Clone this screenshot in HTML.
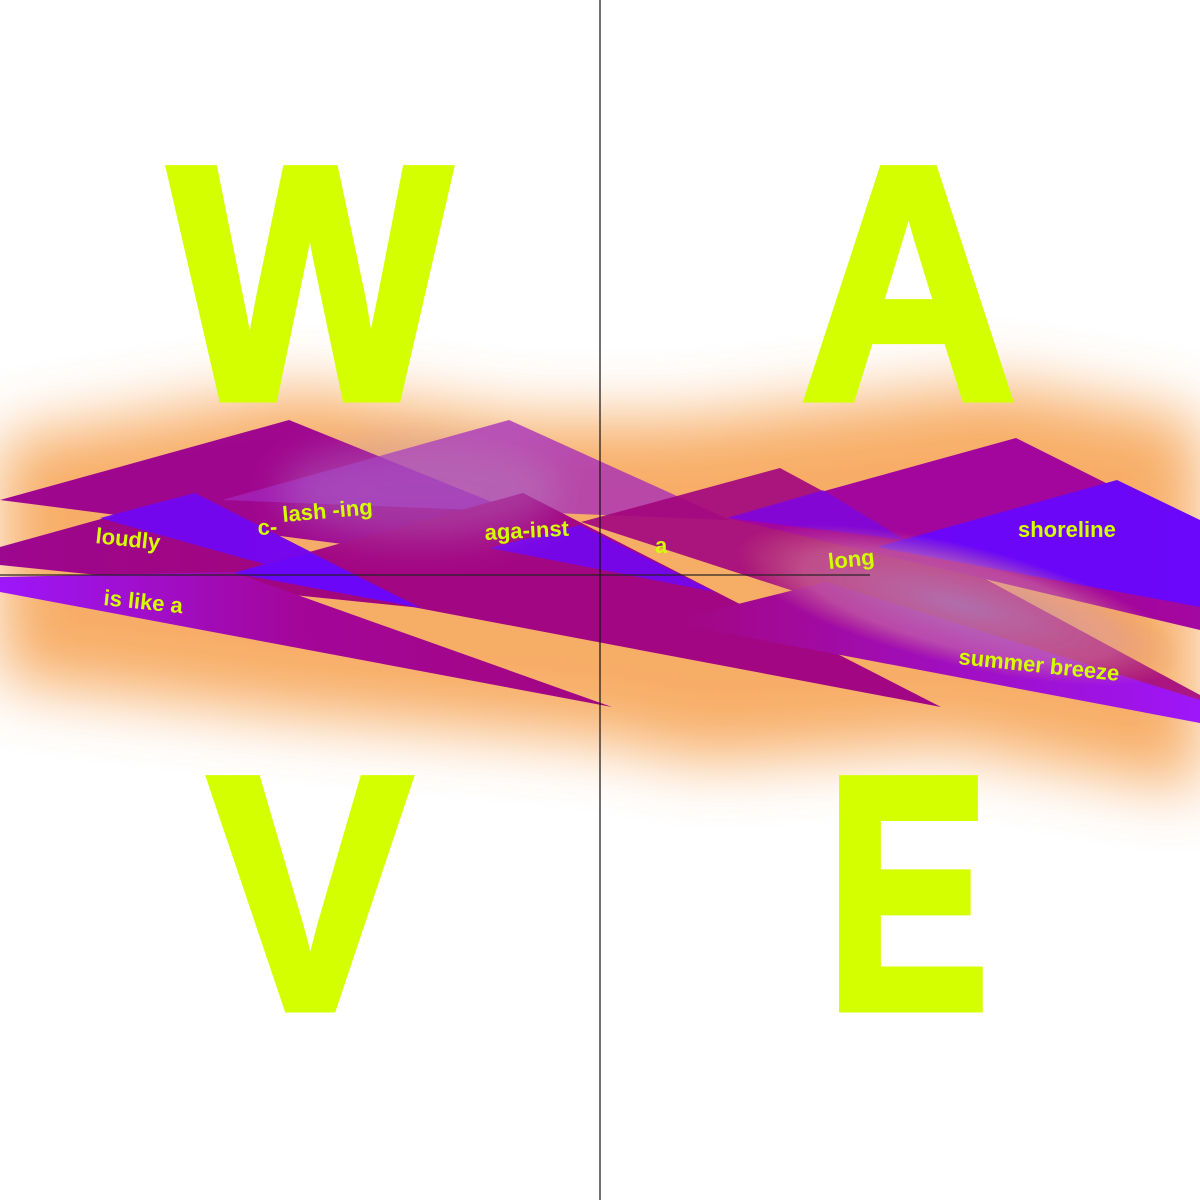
<!DOCTYPE html>
<html><head><meta charset="utf-8"><style>
html,body{margin:0;padding:0;background:#fff;}
svg{display:block;}
text{font-family:"Liberation Sans",sans-serif;}
</style></head><body>
<svg width="1200" height="1200" viewBox="0 0 1200 1200">
<defs>
<filter id="blur" x="-20%" y="-50%" width="140%" height="200%"><feGaussianBlur stdDeviation="32"/></filter>
<filter id="blur2" x="-50%" y="-50%" width="200%" height="200%"><feGaussianBlur stdDeviation="18"/></filter>
<linearGradient id="mag" x1="0" y1="0" x2="1" y2="0"><stop offset="0" stop-color="#9a0090"/><stop offset="1" stop-color="#a0007a"/></linearGradient>
<linearGradient id="vio" x1="0" y1="0" x2="1" y2="0"><stop offset="0" stop-color="#9a10ff"/><stop offset="0.5" stop-color="#a0009a"/><stop offset="1" stop-color="#a00080"/></linearGradient>
<linearGradient id="vio2" x1="1" y1="0" x2="0" y2="0"><stop offset="0" stop-color="#9a10ff"/><stop offset="1" stop-color="#a00080"/></linearGradient>
<radialGradient id="haze" cx="0.5" cy="0.5" r="0.5"><stop offset="0" stop-color="#b08ac0" stop-opacity="0.75"/><stop offset="0.7" stop-color="#d890a0" stop-opacity="0.45"/><stop offset="1" stop-color="#e08a70" stop-opacity="0"/></radialGradient>
</defs>
<rect width="1200" height="1200" fill="#fff"/>
<polygon points="0,440 300,390 520,420 680,420 1000,385 1200,420 1200,790 950,745 700,760 600,740 300,715 0,680" fill="#f5993f" opacity="0.8" filter="url(#blur)"/>
<g fill="#d4ff00" stroke="#d4ff00" stroke-width="9" stroke-linejoin="miter">
<text x="170" y="398" font-size="332" font-weight="bold" textLength="280" lengthAdjust="spacingAndGlyphs">W</text>
<text x="801" y="398" font-size="332" font-weight="bold" textLength="215" lengthAdjust="spacingAndGlyphs">A</text>
</g>
<g opacity="0.96">
<polygon points="0,500 289,420 715,592" fill="#9c0090"/>
<polygon points="222,500 509,420 730,520" fill="#a020c0" opacity="0.75"/>
<polygon points="0,547 195,493 421,608 0,565" fill="url(#mag)"/>
<polygon points="100,518 195,493 421,608" fill="#6a00ff" opacity="0.9"/>
<polygon points="233,573 523,493 941,707" fill="#a00085"/>
<polygon points="233,573 310,552 421,608" fill="#6600ff"/>
<polygon points="0,577 233,572 612,707 0,592" fill="url(#vio)"/>
<polygon points="581,522 780,468 1200,695 1200,723" fill="#a00080" opacity="0.92"/>
<polygon points="490,548 580,525 715,592" fill="#6a00ff" opacity="0.85"/>
<polygon points="727,518 1016,438 1200,530 1200,630" fill="#a000a0"/>
<polygon points="727,518 823,490 905,540" fill="#6a00ff" opacity="0.6"/>
<polygon points="877,547 1117,480 1200,520 1200,607" fill="#6600ff"/>
<polygon points="666,622 826,582 1200,700 1200,723" fill="url(#vio2)"/>
<ellipse cx="960" cy="605" rx="230" ry="60" transform="rotate(14 960 605)" fill="url(#haze)"/>
<ellipse cx="420" cy="490" rx="140" ry="50" fill="#b090d0" opacity="0.35" filter="url(#blur2)"/>
</g>
<line x1="600" y1="0" x2="600" y2="1200" stroke="#111" stroke-width="1.2"/>
<line x1="0" y1="575" x2="870" y2="575" stroke="#222" stroke-width="1.5" opacity="0.8"/>
<g fill="#d4ff00" font-size="22" font-weight="bold">
<text transform="translate(95,543) rotate(6)">loudly</text>
<text transform="translate(258,535) rotate(-3)">c-</text>
<text transform="translate(283,522) rotate(-5)">lash -ing</text>
<text transform="translate(485,540) rotate(-3)">aga-inst</text>
<text x="655" y="553">a</text>
<text transform="translate(829,569) rotate(-6)">long</text>
<text x="1018" y="537">shoreline</text>
<text transform="translate(103,605) rotate(6)">is like a</text>
<text transform="translate(958,664) rotate(6)">summer breeze</text>
</g>
<g fill="#d4ff00" stroke="#d4ff00" stroke-width="9">
<text x="209" y="1008" font-size="332" font-weight="bold" textLength="202" lengthAdjust="spacingAndGlyphs">V</text>
<text x="826" y="1008" font-size="332" font-weight="bold" textLength="163" lengthAdjust="spacingAndGlyphs">E</text>
</g>
</svg>
</body></html>
